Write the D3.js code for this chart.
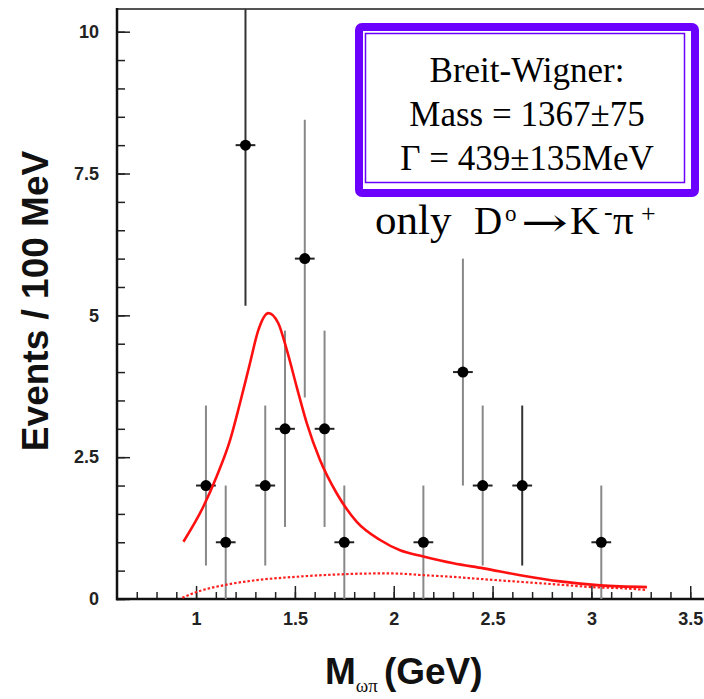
<!DOCTYPE html>
<html>
<head>
<meta charset="utf-8">
<script src="https://cdn.jsdelivr.net/npm/d3@7"></script>
<style>
  html, body { margin: 0; padding: 0; background: #fff; }
  svg { display: block; }
</style>
</head>
<body>
<div id="chart"></div>
<script>
// bins (GeV) and counts
const binCenters = [1.05, 1.15, 1.25, 1.35, 1.45, 1.55, 1.65, 1.75, 2.15, 2.35, 2.45, 2.65, 3.05];
const events = [2, 1, 8, 2, 3, 6, 3, 1, 1, 4, 2, 2, 1];
const errors = [1.41, 1, 2.83, 1.41, 1.73, 2.45, 1.73, 1, 1, 2, 1.41, 1.41, 1];

// fitted Breit-Wigner + background (solid)
const fitMass = [0.936, 1.037, 1.104, 1.172, 1.222, 1.273, 1.315, 1.366, 1.416, 1.459, 1.509, 1.56,
  1.627, 1.712, 1.813, 1.931, 2.032, 2.15, 2.302, 2.454, 2.64, 2.842, 3.044, 3.281];
const fitEvents = [1.01, 1.63, 2.16, 2.8, 3.45, 4.16, 4.74, 5.04, 4.86, 4.39, 3.74, 3.1,
  2.45, 1.86, 1.36, 1.04, 0.86, 0.75, 0.63, 0.54, 0.42, 0.31, 0.24, 0.21];

// background only (dotted)
const bgMass = [0.93, 1.0, 1.15, 1.3, 1.5, 1.7, 1.9, 2.0, 2.15, 2.3, 2.45, 2.65, 2.85, 3.0, 3.15, 3.28];
const bgEvents = [0.02, 0.12, 0.25, 0.33, 0.39, 0.43, 0.45, 0.45, 0.42, 0.39, 0.35, 0.3, 0.25, 0.21, 0.19, 0.16];

const yMajor = [0, 2.5, 5, 7.5, 10];
const yTickLabels = ["0", "2.5", "5", "7.5", "10"];
const xMajor = [1, 1.5, 2, 2.5, 3, 3.5];
const xTickLabels = ["1", "1.5", "2", "2.5", "3", "3.5"];

const boxLines = ["Breit-Wigner:", "Mass = 1367\u00b175", "\u0393 = 439\u00b1135MeV"];

/** Graph configs */
const W = 704, H = 699;
const frame = { left: 117, top: 9, right: 710, bottom: 599 };
const purple = "#6c00ff";
const sans = "'Liberation Sans', Arial, Helvetica, sans-serif";
const serif = "'Liberation Serif', 'Times New Roman', serif";

const svg = d3.select("#chart").append("svg").attr("width", W).attr("height", H);

const x = d3.scaleLinear().domain([0.6, 3.6]).range([frame.left, frame.right]);
const y = d3.scaleLinear().domain([0, 10.4]).range([frame.bottom, frame.top]);

// minor ticks
svg.append("g")
  .attr("transform", `translate(${frame.left},0)`)
  .call(d3.axisLeft(y).tickValues(d3.range(0, 10.01, 0.5)).tickSize(-8).tickFormat(""))
  .call((g) => g.select(".domain").remove())
  .call((g) => g.selectAll("line").attr("stroke", "#222").attr("stroke-width", 1.5));

svg.append("g")
  .attr("transform", `translate(0,${frame.bottom})`)
  .call(d3.axisBottom(x).tickValues(d3.range(0.7, 3.6, 0.1)).tickSize(-7).tickFormat(""))
  .call((g) => g.select(".domain").remove())
  .call((g) => g.selectAll("line").attr("stroke", "#222").attr("stroke-width", 1.5));

// major ticks + labels
svg.append("g")
  .attr("transform", `translate(${frame.left},0)`)
  .call(d3.axisLeft(y).tickValues(yMajor).tickSize(-13).tickPadding(18)
    .tickFormat((d, i) => yTickLabels[i]))
  .call((g) => g.select(".domain").remove())
  .call((g) => g.selectAll("line").attr("stroke", "#222").attr("stroke-width", 1.5))
  .call((g) => g.selectAll("text").attr("font-family", sans).attr("font-weight", "bold")
    .attr("font-size", 18).attr("fill", "#222"));

svg.append("g")
  .attr("transform", `translate(0,${frame.bottom})`)
  .call(d3.axisBottom(x).tickValues(xMajor).tickSize(-13).tickPadding(13)
    .tickFormat((d, i) => xTickLabels[i]))
  .call((g) => g.select(".domain").remove())
  .call((g) => g.selectAll("line").attr("stroke", "#222").attr("stroke-width", 1.5))
  .call((g) => g.selectAll("text").attr("font-family", sans).attr("font-weight", "bold")
    .attr("font-size", 18).attr("fill", "#222"));

// frame
svg.append("line").attr("x1", frame.left).attr("x2", W).attr("y1", frame.top).attr("y2", frame.top)
  .attr("stroke", "#555").attr("stroke-width", 2);
svg.append("line").attr("x1", frame.left).attr("x2", frame.left).attr("y1", frame.top - 1).attr("y2", frame.bottom + 1.2)
  .attr("stroke", "#111").attr("stroke-width", 2.5);
svg.append("line").attr("x1", frame.left - 1).attr("x2", W).attr("y1", frame.bottom).attr("y2", frame.bottom)
  .attr("stroke", "#111").attr("stroke-width", 2.5);

// data points
const pts = binCenters.map((m, i) => ({ m, n: events[i], e: errors[i] }));
const darkBars = [1.25, 2.65];
const plot = svg.append("g");

plot.selectAll(".err")
  .data(pts)
  .enter()
  .append("line")
  .attr("x1", (d) => x(d.m)).attr("x2", (d) => x(d.m))
  .attr("y1", (d) => Math.max(y(d.n + d.e), frame.top))
  .attr("y2", (d) => Math.min(y(d.n - d.e), frame.bottom))
  .attr("stroke", (d) => (darkBars.includes(d.m) ? "#333" : "#888"))
  .attr("stroke-width", 2);

plot.selectAll(".hbar")
  .data(pts)
  .enter()
  .append("line")
  .attr("x1", (d) => x(d.m - 0.05)).attr("x2", (d) => x(d.m + 0.05))
  .attr("y1", (d) => y(d.n)).attr("y2", (d) => y(d.n))
  .attr("stroke", "#222").attr("stroke-width", 2);

plot.selectAll("circle")
  .data(pts)
  .enter()
  .append("circle")
  .attr("cx", (d) => x(d.m)).attr("cy", (d) => y(d.n))
  .attr("r", 5.5).attr("fill", "#000");

// curves
const line = d3.line().x((d) => x(d[0])).y((d) => y(d[1])).curve(d3.curveMonotoneX);

svg.append("path")
  .datum(bgMass.map((m, i) => [m, bgEvents[i]]))
  .attr("d", line)
  .attr("fill", "none").attr("stroke", "#ff2020").attr("stroke-width", 2.2)
  .attr("stroke-dasharray", "2.5,2");

svg.append("path")
  .datum(fitMass.map((m, i) => [m, fitEvents[i]]))
  .attr("d", line)
  .attr("fill", "none").attr("stroke", "#ff1010").attr("stroke-width", 2.6);

// axis titles
svg.append("text")
  .attr("transform", "translate(48,301) rotate(-90)")
  .attr("text-anchor", "middle")
  .attr("font-family", sans).attr("font-weight", "bold").attr("font-size", 37)
  .attr("fill", "#111")
  .text("Events / 100 MeV");

const xt = svg.append("text")
  .attr("x", 325).attr("y", 684)
  .attr("font-family", sans).attr("font-weight", "bold").attr("font-size", 37)
  .attr("fill", "#111");
xt.append("tspan").text("M");
xt.append("tspan").attr("font-family", serif).attr("font-weight", "normal").attr("font-size", 19)
  .attr("dy", 8).text("\u03c9\u03c0");
xt.append("tspan").attr("dy", -8).attr("dx", 6).text("(GeV)");

// fit result box
svg.append("rect")
  .attr("x", 359).attr("y", 27).attr("width", 336).attr("height", 166).attr("rx", 3)
  .attr("fill", "#fff").attr("stroke", purple).attr("stroke-width", 8);
svg.append("rect")
  .attr("x", 365.5).attr("y", 33.5).attr("width", 319).attr("height", 149)
  .attr("fill", "none").attr("stroke", purple).attr("stroke-width", 1.5);

svg.selectAll(".boxline")
  .data(boxLines)
  .enter()
  .append("text")
  .attr("x", 527)
  .attr("y", (d, i) => 82 + i * 44)
  .attr("text-anchor", "middle")
  .attr("font-family", serif).attr("font-size", 35).attr("fill", "#000")
  .text((d) => d);

// decay channel note
const note = svg.append("g").attr("font-family", serif).attr("fill", "#000");
note.append("text").attr("x", 375).attr("y", 234).attr("font-size", 43).text("only");
note.append("text").attr("x", 474).attr("y", 234).attr("font-size", 39).text("D");
note.append("text").attr("x", 505).attr("y", 221).attr("font-size", 23).text("o");
note.append("text")
  .attr("transform", "translate(521,236) scale(1.4,1)")
  .attr("font-family", "'DejaVu Serif', serif").attr("font-size", 40).text("\u2192");
note.append("text").attr("x", 570).attr("y", 234).attr("font-size", 41).text("K");
note.append("text").attr("x", 604).attr("y", 220).attr("font-size", 26).text("-");
note.append("text").attr("x", 613).attr("y", 234).attr("font-size", 41).text("\u03c0");
note.append("text").attr("x", 641).attr("y", 222).attr("font-size", 26).text("+");
</script>
</body>
</html>
